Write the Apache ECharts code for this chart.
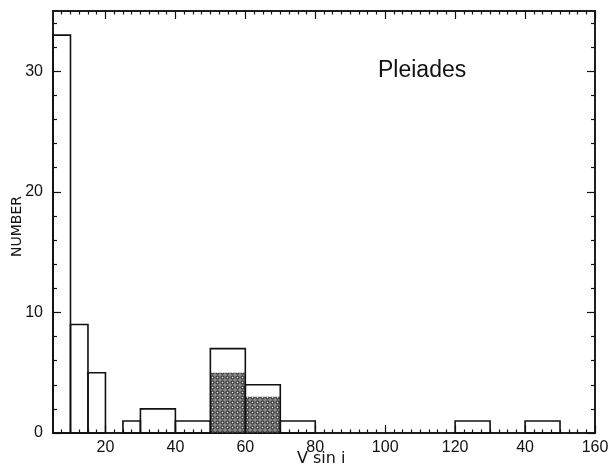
<!DOCTYPE html>
<html>
<head>
<meta charset="utf-8">
<script src="https://cdn.jsdelivr.net/npm/echarts@6/dist/echarts.min.js"></script>
<style>html,body{margin:0;padding:0;background:#fff}#c{width:611px;height:469px}</style>
</head>
<body>
<div id="c"></div>
<script>
// Histogram bins (V sin i, km/s) and counts
const binStart = [5, 10, 15, 25, 30, 40, 50, 60, 70, 120, 140];
const binEnd   = [10, 15, 20, 30, 40, 50, 60, 70, 80, 130, 150];
const counts   = [33, 9, 5, 1, 2, 1, 7, 4, 1, 1, 1];
// Shaded sub-sample
const shadedStart  = [50, 60];
const shadedEnd    = [60, 70];
const shadedCounts = [5, 3];
// Axis ticks and labels
const xTickValues = [20, 40, 60, 80, 100, 120, 140, 160];
const xTickLabels = ['20', '40', '60', '80', '100', '120', '40', '160'];
const yTickValues = [0, 10, 20, 30];
const yTickLabels = ['0', '10', '20', '30'];
const titleText = 'Pleiades';
const xName = 'V sin i';
const yName = 'NUMBER';

const X_MIN = 5, X_MAX = 160, Y_MIN = 0, Y_MAX = 35;

const xMinor = [];
for (let v = 7.5; v < X_MAX; v += 2.5) if (xTickValues.indexOf(v) < 0) xMinor.push(v);
const yMinor = [];
for (let v = 2; v < Y_MAX; v += 2) if (yTickValues.indexOf(v) < 0) yMinor.push(v);

// dotted pattern
const pc = document.createElement('canvas');
pc.width = 5; pc.height = 5;
const px = pc.getContext('2d');
px.fillStyle = '#8a8a8a'; px.fillRect(0, 0, 5, 5);
px.strokeStyle = '#222'; px.lineWidth = 1;
px.beginPath(); px.arc(2.5, 2.5, 1.6, 0, Math.PI * 2); px.stroke();
px.fillStyle = '#f0f0f0'; px.fillRect(2, 2, 1, 1);

const FONT = 'Liberation Sans';
const LINE = '#111';

function xAx(pos, vals, len, labels) {
  return {
    type: 'value', position: pos, min: X_MIN, max: X_MAX,
    axisLine: { show: true, onZero: false, lineStyle: { color: LINE, width: 1.5 } },
    axisTick: { show: true, inside: true, length: len, customValues: vals, lineStyle: { color: LINE, width: 1.2 } },
    axisLabel: labels ? {
      show: true, customValues: xTickValues, margin: 7, color: '#111', fontSize: 16, fontFamily: FONT,
      formatter: v => xTickLabels[xTickValues.indexOf(v)] || ''
    } : { show: false },
    splitLine: { show: false }
  };
}
function yAx(pos, vals, len, labels) {
  return {
    type: 'value', position: pos, min: Y_MIN, max: Y_MAX,
    axisLine: { show: true, onZero: false, lineStyle: { color: LINE, width: 1.5 } },
    axisTick: { show: true, inside: true, length: len, customValues: vals, lineStyle: { color: LINE, width: 1.2 } },
    axisLabel: labels ? {
      show: true, customValues: yTickValues, margin: 10, color: '#111', fontSize: 16, fontFamily: FONT,
      formatter: v => yTickLabels[yTickValues.indexOf(v)] || ''
    } : { show: false },
    splitLine: { show: false }
  };
}

const xAxes = [xAx('bottom', xTickValues, 8, true), xAx('bottom', xMinor, 3.5, false),
               xAx('top', xTickValues, 8, false), xAx('top', xMinor, 3.5, false)];
const yAxes = [yAx('left', yTickValues, 8, true), yAx('left', yMinor, 4, false),
               yAx('right', yTickValues, 8, false), yAx('right', yMinor, 4, false)];

const outlineData = binStart.map((s, i) => [s, binEnd[i], counts[i]]);
const shadedData = shadedStart.map((s, i) => [s, shadedEnd[i], shadedCounts[i]]);

function render(fillStyle) {
  return function (params, api) {
    const p0 = api.coord([api.value(0), api.value(2)]);
    const p1 = api.coord([api.value(1), 0]);
    return {
      type: 'rect',
      shape: { x: p0[0], y: p0[1], width: p1[0] - p0[0], height: p1[1] - p0[1] },
      style: fillStyle
    };
  };
}

const chart = echarts.init(document.getElementById('c'), null, { renderer: 'canvas' });
chart.setOption({
  animation: false,
  backgroundColor: '#fff',
  grid: { left: 53, right: 16, top: 11, bottom: 36, outerBoundsMode: 'none', containLabel: false },
  title: { text: titleText, left: 373, top: 54, textStyle: { fontFamily: FONT, fontSize: 23, fontWeight: 'normal', color: '#111' } },
  xAxis: xAxes,
  yAxis: yAxes,
  graphic: [
    { type: 'text', left: 297, top: 451, style: { text: xName, font: '16px "DejaVu Sans"', fill: '#111' } },
    { type: 'text', x: 10, y: 257, rotation: Math.PI / 2, style: { text: yName, font: '14px "DejaVu Sans"', fill: '#111' } }
  ],
  series: [
    {
      type: 'custom', xAxisIndex: 0, yAxisIndex: 0, z: 2,
      renderItem: render({ fill: { image: pc, repeat: 'repeat' }, stroke: null }),
      data: shadedData, encode: { x: [0, 1], y: 2 }
    },
    {
      type: 'custom', xAxisIndex: 0, yAxisIndex: 0, z: 3,
      renderItem: render({ fill: null, stroke: '#111', lineWidth: 1.6 }),
      data: outlineData, encode: { x: [0, 1], y: 2 }
    }
  ]
});
</script>
</body>
</html>
